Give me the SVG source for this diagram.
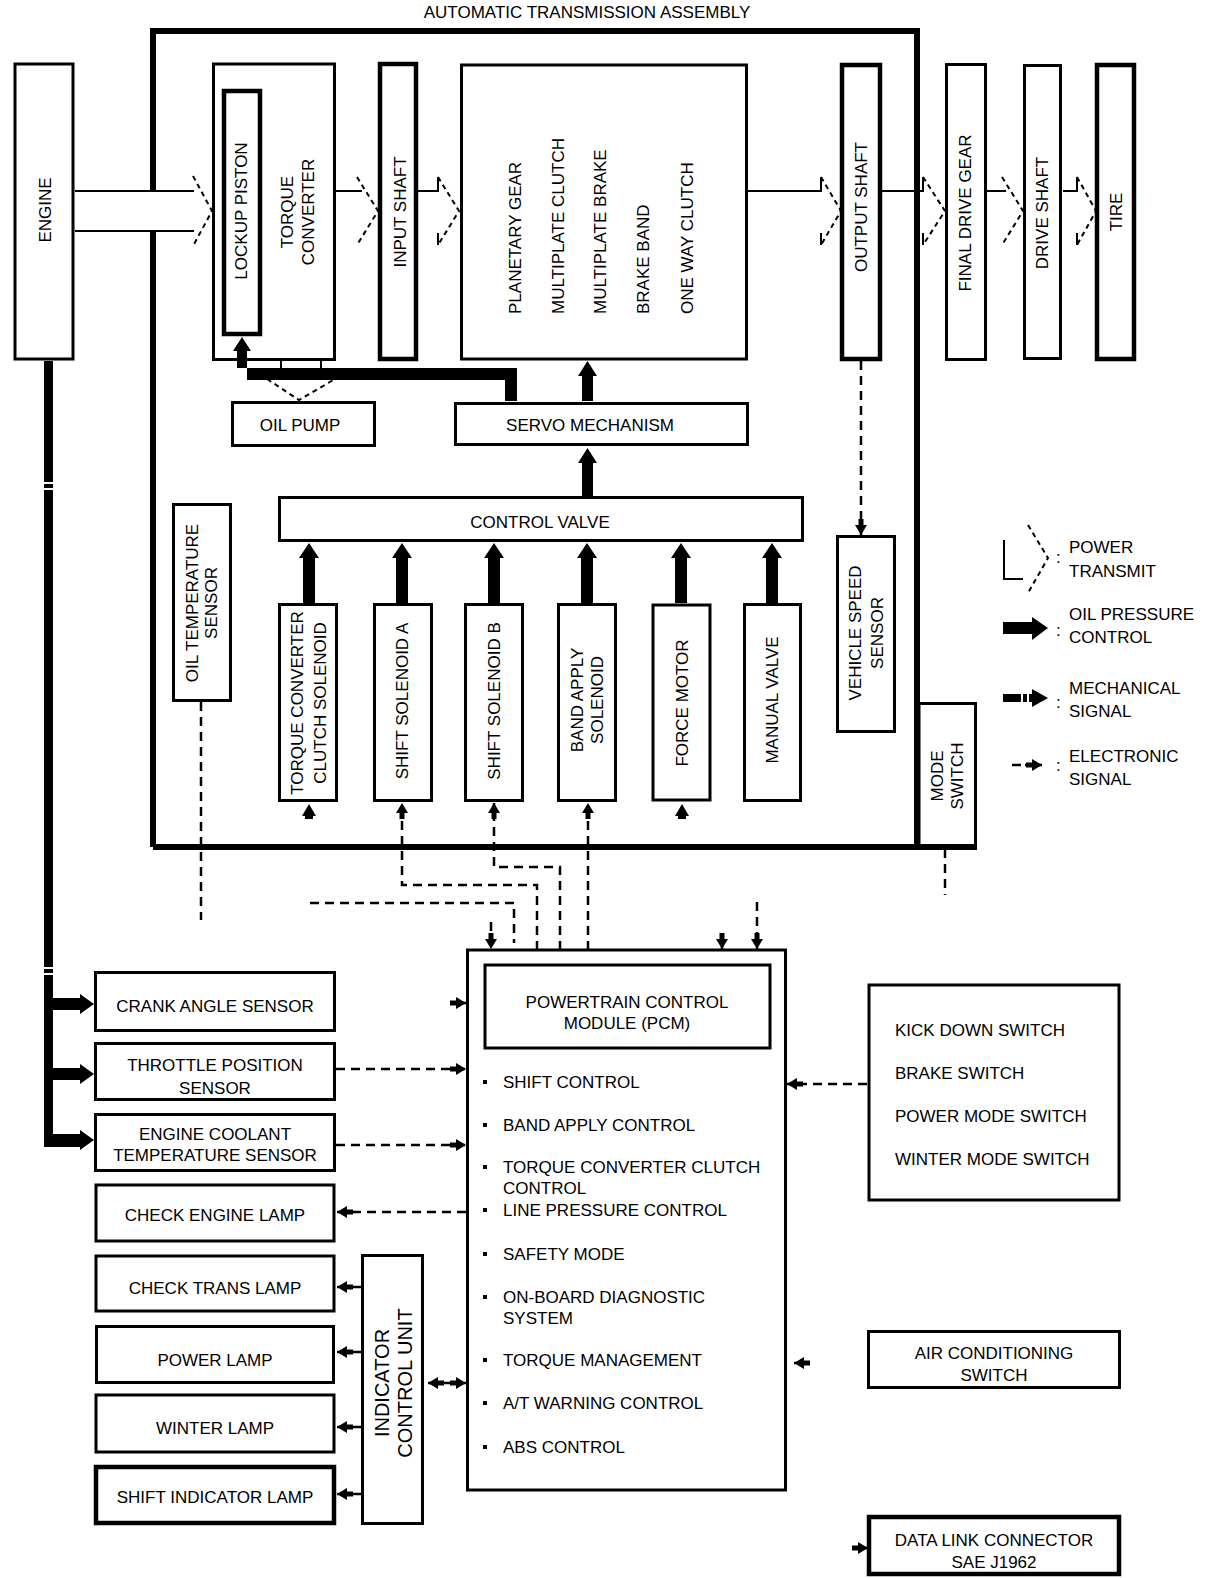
<svg xmlns="http://www.w3.org/2000/svg" width="1216" height="1578" viewBox="0 0 1216 1578">
<style>
.t{font-family:"Liberation Sans",Arial,sans-serif;font-size:17px;fill:#000}
.b{fill:#fff;stroke:#000;stroke-width:3}
.k{stroke-width:4.5}
.d{fill:none;stroke:#000;stroke-width:2.5;stroke-dasharray:9 6}
.s{fill:none;stroke:#000;stroke-width:2}
.c{fill:none;stroke:#000;stroke-width:2;stroke-dasharray:5 4}
.e{fill:none;stroke:#000;stroke-width:2.5}
</style>
<defs>
<marker id="ea" viewBox="0 0 16 12" refX="16" refY="6" markerWidth="16" markerHeight="12" markerUnits="userSpaceOnUse" orient="auto-start-reverse"><path d="M0,3.5 H6 V0 L16,6 L6,12 V8.5 H0 z" fill="#000"/></marker>
</defs>
<rect width="1216" height="1578" fill="#fff"/>
<text class="t" x="587" y="18" text-anchor="middle">AUTOMATIC TRANSMISSION ASSEMBLY</text>
<g id="assembly">
<path d="M153,191 V31 H917 V847 M153,231 V847 M153,847 H977" fill="none" stroke="#000" stroke-width="6"/>
</g>
<g id="engine"><rect class="b" x="15" y="64" width="58" height="295"/><text class="t" text-anchor="middle" transform="translate(51,210) rotate(-90)">ENGINE</text></g>
<g id="torque-converter"><rect class="b" x="213.5" y="64" width="121" height="295.5"/><text class="t" text-anchor="middle" transform="translate(293,212) rotate(-90)">TORQUE</text><text class="t" text-anchor="middle" transform="translate(314,212) rotate(-90)">CONVERTER</text></g>
<g id="lockup-piston"><rect class="b k" x="224" y="91" width="36" height="243"/><text class="t" text-anchor="middle" transform="translate(247,211) rotate(-90)">LOCKUP PISTON</text></g>
<g id="input-shaft"><rect class="b k" x="380" y="64" width="36" height="295"/><text class="t" text-anchor="middle" transform="translate(406,212) rotate(-90)">INPUT SHAFT</text></g>
<g id="planetary"><rect class="b" x="461.5" y="65" width="285" height="294" stroke-width="3.5"/>
<text class="t" transform="translate(521,314) rotate(-90)">PLANETARY GEAR</text>
<text class="t" transform="translate(564,314) rotate(-90)">MULTIPLATE CLUTCH</text>
<text class="t" transform="translate(606,314) rotate(-90)">MULTIPLATE BRAKE</text>
<text class="t" transform="translate(649,314) rotate(-90)">BRAKE BAND</text>
<text class="t" transform="translate(693,314) rotate(-90)">ONE WAY CLUTCH</text></g>
<g id="output-shaft"><rect class="b k" x="842" y="65" width="38" height="294"/><text class="t" text-anchor="middle" transform="translate(867,207) rotate(-90)">OUTPUT SHAFT</text></g>
<g id="final-drive"><rect class="b" x="946.5" y="64.5" width="39" height="295" stroke-width="3.5"/><text class="t" text-anchor="middle" transform="translate(971,213) rotate(-90)">FINAL DRIVE GEAR</text></g>
<g id="drive-shaft"><rect class="b" x="1024.5" y="65.5" width="36" height="293" stroke-width="5"/><text class="t" text-anchor="middle" transform="translate(1048,213) rotate(-90)">DRIVE SHAFT</text></g>
<g id="tire"><rect class="b k" x="1097" y="65" width="37" height="294"/><text class="t" text-anchor="middle" transform="translate(1122,212) rotate(-90)">TIRE</text></g>
<g id="oil-pump"><rect class="b" x="232.5" y="402.5" width="142" height="43"/><text class="t" x="300" y="431" text-anchor="middle">OIL PUMP</text></g>
<g id="servo"><rect class="b" x="455.5" y="403.5" width="292" height="41" stroke-width="5"/><text class="t" x="590" y="431" text-anchor="middle">SERVO MECHANISM</text></g>
<g id="control-valve"><rect class="b" x="279.5" y="497.5" width="523" height="43"/><text class="t" x="540" y="528" text-anchor="middle">CONTROL VALVE</text></g>
<g id="oil-temp"><rect class="b" x="173.5" y="504.5" width="57" height="196"/><text class="t" text-anchor="middle" transform="translate(198,603) rotate(-90)">OIL TEMPERATURE</text><text class="t" text-anchor="middle" transform="translate(217,603) rotate(-90)">SENSOR</text></g>
<g id="tcc-solenoid"><rect class="b" x="279.5" y="604.5" width="57" height="196"/><text class="t" text-anchor="middle" transform="translate(303,703) rotate(-90)">TORQUE CONVERTER</text><text class="t" text-anchor="middle" transform="translate(326,703) rotate(-90)">CLUTCH SOLENOID</text></g>
<g id="shift-a"><rect class="b" x="374.5" y="604.5" width="57" height="196"/><text class="t" text-anchor="middle" transform="translate(408,701) rotate(-90)">SHIFT SOLENOID A</text></g>
<g id="shift-b"><rect class="b" x="465.5" y="604.5" width="57" height="196"/><text class="t" text-anchor="middle" transform="translate(500,701) rotate(-90)">SHIFT SOLENOID B</text></g>
<g id="band-apply"><rect class="b" x="558.5" y="604.5" width="57" height="196"/><text class="t" text-anchor="middle" transform="translate(583,700) rotate(-90)">BAND APPLY</text><text class="t" text-anchor="middle" transform="translate(603,700) rotate(-90)">SOLENOID</text></g>
<g id="force-motor"><rect class="b" x="653" y="605" width="57" height="195" stroke-width="4"/><text class="t" text-anchor="middle" transform="translate(688,703) rotate(-90)">FORCE MOTOR</text></g>
<g id="manual-valve"><rect class="b" x="744.5" y="604.5" width="56" height="196"/><text class="t" text-anchor="middle" transform="translate(778,700) rotate(-90)">MANUAL VALVE</text></g>
<g id="vss"><rect class="b" x="837.5" y="536.5" width="57" height="195"/><text class="t" text-anchor="middle" transform="translate(861,633) rotate(-90)">VEHICLE SPEED</text><text class="t" text-anchor="middle" transform="translate(883,633) rotate(-90)">SENSOR</text></g>
<g id="mode-switch"><rect class="b" x="919" y="703.5" width="56.5" height="142"/><text class="t" text-anchor="middle" transform="translate(943,776) rotate(-90)">MODE</text><text class="t" text-anchor="middle" transform="translate(963,776) rotate(-90)">SWITCH</text></g>
<g id="crank"><rect class="b" x="95.5" y="972.5" width="239" height="58"/><text class="t" x="215" y="1012" text-anchor="middle">CRANK ANGLE SENSOR</text></g>
<g id="throttle"><rect class="b" x="95.5" y="1043.5" width="239" height="56"/><text class="t" x="215" y="1071" text-anchor="middle">THROTTLE POSITION</text><text class="t" x="215" y="1094" text-anchor="middle">SENSOR</text></g>
<g id="coolant"><rect class="b" x="95.5" y="1114.5" width="239" height="56"/><text class="t" x="215" y="1140" text-anchor="middle">ENGINE COOLANT</text><text class="t" x="215" y="1161" text-anchor="middle">TEMPERATURE SENSOR</text></g>
<g id="check-engine"><rect class="b" x="96" y="1185" width="238" height="56" stroke-width="4"/><text class="t" x="215" y="1221" text-anchor="middle">CHECK ENGINE LAMP</text></g>
<g id="check-trans"><rect class="b" x="96" y="1256" width="238" height="55" stroke-width="4"/><text class="t" x="215" y="1294" text-anchor="middle">CHECK TRANS LAMP</text></g>
<g id="power-lamp"><rect class="b" x="96.5" y="1326.5" width="237" height="56" stroke-width="5"/><text class="t" x="215" y="1366" text-anchor="middle">POWER LAMP</text></g>
<g id="winter-lamp"><rect class="b" x="96" y="1395" width="238" height="57" stroke-width="4"/><text class="t" x="215" y="1434" text-anchor="middle">WINTER LAMP</text></g>
<g id="shift-ind"><rect class="b k" x="96" y="1467" width="238" height="56"/><text class="t" x="215" y="1503" text-anchor="middle">SHIFT INDICATOR LAMP</text></g>
<g id="icu"><rect class="b" x="362.5" y="1255.5" width="60" height="268"/><text class="t" text-anchor="middle" style="font-size:20px" transform="translate(389,1383) rotate(-90)">INDICATOR</text><text class="t" text-anchor="middle" style="font-size:20px" transform="translate(412,1383) rotate(-90)">CONTROL UNIT</text></g>
<g id="pcm"><rect class="b" x="467.5" y="950" width="318" height="540"/>
<rect class="b" x="485" y="965" width="285" height="83" stroke-width="4.5"/>
<text class="t" x="627" y="1008" text-anchor="middle">POWERTRAIN CONTROL</text>
<text class="t" x="627" y="1029" text-anchor="middle">MODULE (PCM)</text>
<g fill="#000"><rect x="483" y="1080" width="4" height="4"/><rect x="483" y="1123" width="4" height="4"/><rect x="483" y="1165" width="4" height="4"/><rect x="483" y="1208" width="4" height="4"/><rect x="483" y="1252" width="4" height="4"/><rect x="483" y="1295" width="4" height="4"/><rect x="483" y="1358" width="4" height="4"/><rect x="483" y="1401" width="4" height="4"/><rect x="483" y="1445" width="4" height="4"/></g>
<text class="t" x="503" y="1088">SHIFT CONTROL</text>
<text class="t" x="503" y="1131">BAND APPLY CONTROL</text>
<text class="t" x="503" y="1173">TORQUE CONVERTER CLUTCH</text>
<text class="t" x="503" y="1194">CONTROL</text>
<text class="t" x="503" y="1216">LINE PRESSURE CONTROL</text>
<text class="t" x="503" y="1260">SAFETY MODE</text>
<text class="t" x="503" y="1303">ON-BOARD DIAGNOSTIC</text>
<text class="t" x="503" y="1324">SYSTEM</text>
<text class="t" x="503" y="1366">TORQUE MANAGEMENT</text>
<text class="t" x="503" y="1409">A/T WARNING CONTROL</text>
<text class="t" x="503" y="1453">ABS CONTROL</text></g>
<g id="switches"><rect class="b" x="869" y="985" width="250" height="215" stroke-width="3.5"/>
<text class="t" x="895" y="1036">KICK DOWN SWITCH</text>
<text class="t" x="895" y="1079">BRAKE SWITCH</text>
<text class="t" x="895" y="1122">POWER MODE SWITCH</text>
<text class="t" x="895" y="1165">WINTER MODE SWITCH</text></g>
<g id="ac-switch"><rect class="b" x="868.5" y="1331.5" width="251" height="56"/><text class="t" x="994" y="1359" text-anchor="middle">AIR CONDITIONING</text><text class="t" x="994" y="1381" text-anchor="middle">SWITCH</text></g>
<g id="dlc"><rect class="b k" x="869" y="1517" width="250" height="57"/><text class="t" x="994" y="1546" text-anchor="middle">DATA LINK CONNECTOR</text><text class="t" x="994" y="1568" text-anchor="middle">SAE J1962</text></g>
<g id="connectors">
<g id="power-transmit">
<path class="s" d="M75,191 H194 M75,231 H194 M336,191 H362 M418,191 H438 V177 M748,191 H821 V177 M882,191 H923 V177 M987,191 H1006 M1063,191 H1077 V177 M438,233 V245 M821,233 V245 M923,233 V245 M1077,233 V245 M281,361 V368 M321,361 V368"/>
<path class="c" d="M193,176 L212,211 L193,246 M357,177 L378,211 L357,245 M438,177 L459,211 L438,245 M821,177 L841,211 L821,245 M923,177 L945,211 L923,245 M1002,177 L1023,211 L1002,245 M1077,177 L1096,211 L1077,245 M267,379 L299,400 L335,379"/>
</g>
<g id="oil-pressure" fill="#000">
<polygon points="505,401 505,380 247,380 247,351 251,351 242,337 233,351 237,351 237,368 517,368 517,401"/>
<polygon points="582,401 582,376 578,376 587.5,361 597,376 593,376 593,401"/>
<polygon points="582,496 582,463 578,463 587.5,448 597,463 593,463 593,496"/>
<polygon points="303,603 303,558 299,558 309,543 319,558 315,558 315,603"/>
<polygon points="396,603 396,558 392,558 402,543 412,558 408,558 408,603"/>
<polygon points="488,603 488,558 484,558 494,543 504,558 500,558 500,603"/>
<polygon points="581,603 581,558 577,558 587,543 597,558 593,558 593,603"/>
<polygon points="675,603 675,558 671,558 681,543 691,558 687,558 687,603"/>
<polygon points="766,603 766,558 762,558 772,543 782,558 778,558 778,603"/>
<polygon points="302,816 316,816 309,804"/><rect x="305" y="815" width="8" height="4"/>
<polygon points="675,816 689,816 682,804"/><rect x="678" y="815" width="8" height="4"/>
</g>
<g id="mechanical" fill="#000">
<rect x="44" y="361" width="9" height="786"/>
<rect x="44" y="998" width="37" height="12"/>
<rect x="44" y="1068" width="37" height="12"/>
<rect x="44" y="1134" width="37" height="13"/>
<polygon points="80,994 80,1014 94,1004"/>
<polygon points="80,1064 80,1084 94,1074"/>
<polygon points="80,1130 80,1150 94,1140"/>
<rect x="42" y="482" width="13" height="2" fill="#fff"/>
<rect x="42" y="488" width="13" height="2" fill="#fff"/>
<rect x="42" y="967" width="13" height="2" fill="#fff"/>
<rect x="42" y="973" width="13" height="2" fill="#fff"/>
</g>
<g id="electronic">
<path class="d" d="M201,702 V920"/>
<path class="d" d="M537,950 V885 H402 V803" marker-end="url(#ea)"/>
<path class="d" d="M560,950 V867 H494 V803" marker-end="url(#ea)"/>
<path class="d" d="M588,950 V803" marker-end="url(#ea)"/>
<path class="d" d="M310,903 H514 V943"/>
<path class="d" d="M491,922 V949" marker-end="url(#ea)"/>
<path class="e" d="M722,934 V949" marker-end="url(#ea)"/>
<path class="d" d="M757,902 V949" marker-end="url(#ea)"/>
<path class="d" d="M861,361 V535" marker-end="url(#ea)"/>
<path class="d" d="M945,849 V895"/>
<path class="d" d="M336,1069 H466" marker-end="url(#ea)"/>
<path class="d" d="M336,1145 H466" marker-end="url(#ea)"/>
<path class="e" d="M450,1003 H466" marker-end="url(#ea)"/>
<path class="d" d="M466,1212 H337" marker-end="url(#ea)"/>
<path class="d" d="M867,1084 H787" marker-end="url(#ea)"/>
<path class="e" d="M810,1363 H794" marker-end="url(#ea)"/>
<path class="e" d="M855,1548 H868" marker-end="url(#ea)"/>
<path class="e" d="M428,1383 H466" marker-start="url(#ea)" marker-end="url(#ea)"/>
<path class="e" d="M361,1287 H337" marker-end="url(#ea)"/>
<path class="e" d="M361,1352 H337" marker-end="url(#ea)"/>
<path class="e" d="M361,1427 H337" marker-end="url(#ea)"/>
<path class="e" d="M361,1494 H337" marker-end="url(#ea)"/>
</g>
</g>
<g id="legend">
<path class="s" d="M1004,540 V579 H1023"/>
<path class="c" d="M1028,525 L1048,558 L1028,593"/>
<polygon points="1003,622 1032,622 1032,617 1048,628 1032,640 1032,634 1003,634" fill="#000"/>
<g fill="#000"><rect x="1003" y="694" width="18" height="8"/><rect x="1023" y="694" width="4" height="8"/><rect x="1029" y="694" width="3" height="8"/><polygon points="1032,689 1032,707 1048,698"/></g>
<path class="e" d="M1012,765 H1021"/>
<path class="e" d="M1025,765 H1042" marker-end="url(#ea)"/>
<text class="t" x="1056" y="563">:</text>
<text class="t" x="1056" y="636">:</text>
<text class="t" x="1056" y="708">:</text>
<text class="t" x="1056" y="771">:</text>
<text class="t" x="1069" y="553">POWER</text>
<text class="t" x="1069" y="577">TRANSMIT</text>
<text class="t" x="1069" y="620">OIL PRESSURE</text>
<text class="t" x="1069" y="643">CONTROL</text>
<text class="t" x="1069" y="694">MECHANICAL</text>
<text class="t" x="1069" y="717">SIGNAL</text>
<text class="t" x="1069" y="762">ELECTRONIC</text>
<text class="t" x="1069" y="785">SIGNAL</text>
</g>
</svg>
